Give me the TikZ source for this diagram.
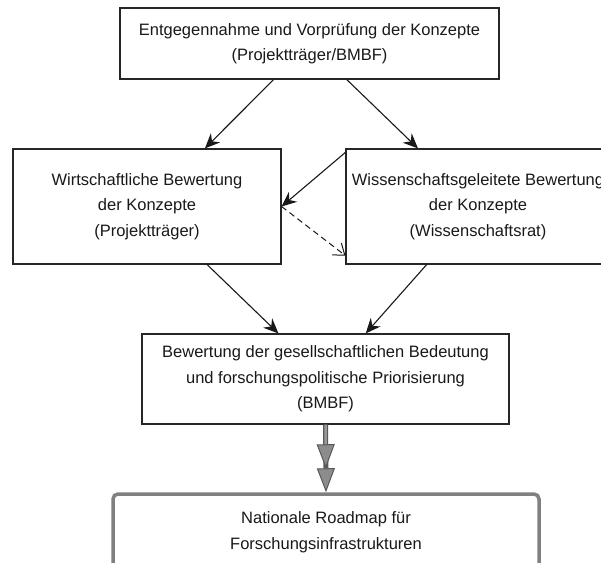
\documentclass[tikz,border=0pt]{standalone}
\usepackage{fontspec}
\setmainfont{Liberation Sans}
\usetikzlibrary{arrows.meta}

\tikzset{
  box/.style={draw=black!85, line width=1.2pt, fill=white, align=center, inner sep=0pt,
    text=black!90, font=\fontsize{16.5pt}{25.5pt}\selectfont},
  finalbox/.style={box, draw=black!50, line width=3.5pt, rounded corners=5pt},
  flow/.style={draw=black!90, line width=1.1pt, -{Stealth[length=15pt,width=13pt,inset=5pt]}},
  feedback/.style={draw=black!90, line width=1pt, dash pattern=on 6pt off 4pt,
    -{Straight Barb[length=10pt,width=15pt,line width=1pt]}},
  roadarrow/.style={draw=black!65, line width=5pt,
    -{Triangle[length=24pt,width=18pt,line width=1pt,color=black!65,fill=black!45]},
    postaction={draw=black!40, line width=2.5pt, shorten >=24pt}}
}

\begin{document}
\begin{tikzpicture}[x=1pt,y=-1pt]
\clip (0.000000, 0.000000) rectangle (601.000000, 562.000000);
\fill[white] (0.000000, 0.000000) rectangle (601.000000, 562.000000);
% Drawing boxes
\node[box, minimum width=379pt, minimum height=71pt] (konzepte) at (309.500000, 43.500000)
  {Entgegennahme und Vorprüfung der Konzepte\\(Projektträger/BMBF)};
\node[box, minimum width=268pt, minimum height=115pt] (wirtschaft) at (147.000000, 206.500000)
  {Wirtschaftliche Bewertung\\der Konzepte\\(Projektträger)};
\node[box, minimum width=264pt, minimum height=115pt] (wissenschaft) at (478.000000, 206.500000)
  {Wissenschaftsgeleitete Bewertung\\der Konzepte\\(Wissenschaftsrat)};
\node[box, minimum width=367pt, minimum height=90pt] (priorisierung) at (325.500000, 379.000000)
  {Bewertung der gesellschaftlichen Bedeutung\\und forschungspolitische Priorisierung\\(BMBF)};
\node[finalbox, minimum width=426pt, minimum height=76pt] (roadmap) at (326.000000, 532.000000)
  {Nationale Roadmap für\\Forschungsinfrastrukturen};
% Done with boxes; drawing arrows
\draw[flow] (konzepte) -- (wirtschaft);
\draw[flow] (konzepte) -- (wissenschaft);
\draw[flow] ([yshift=-4pt]wissenschaft.north west) -- (wirtschaft.east);
\draw[feedback] (wirtschaft.east) -- ([yshift=9pt]wissenschaft.south west);
\draw[flow] (wirtschaft) -- (priorisierung);
\draw[flow] (wissenschaft) -- (priorisierung);
\draw[roadarrow] (priorisierung.south) -- (roadmap.north);
% Done with arrows
\end{tikzpicture}
\end{document}
